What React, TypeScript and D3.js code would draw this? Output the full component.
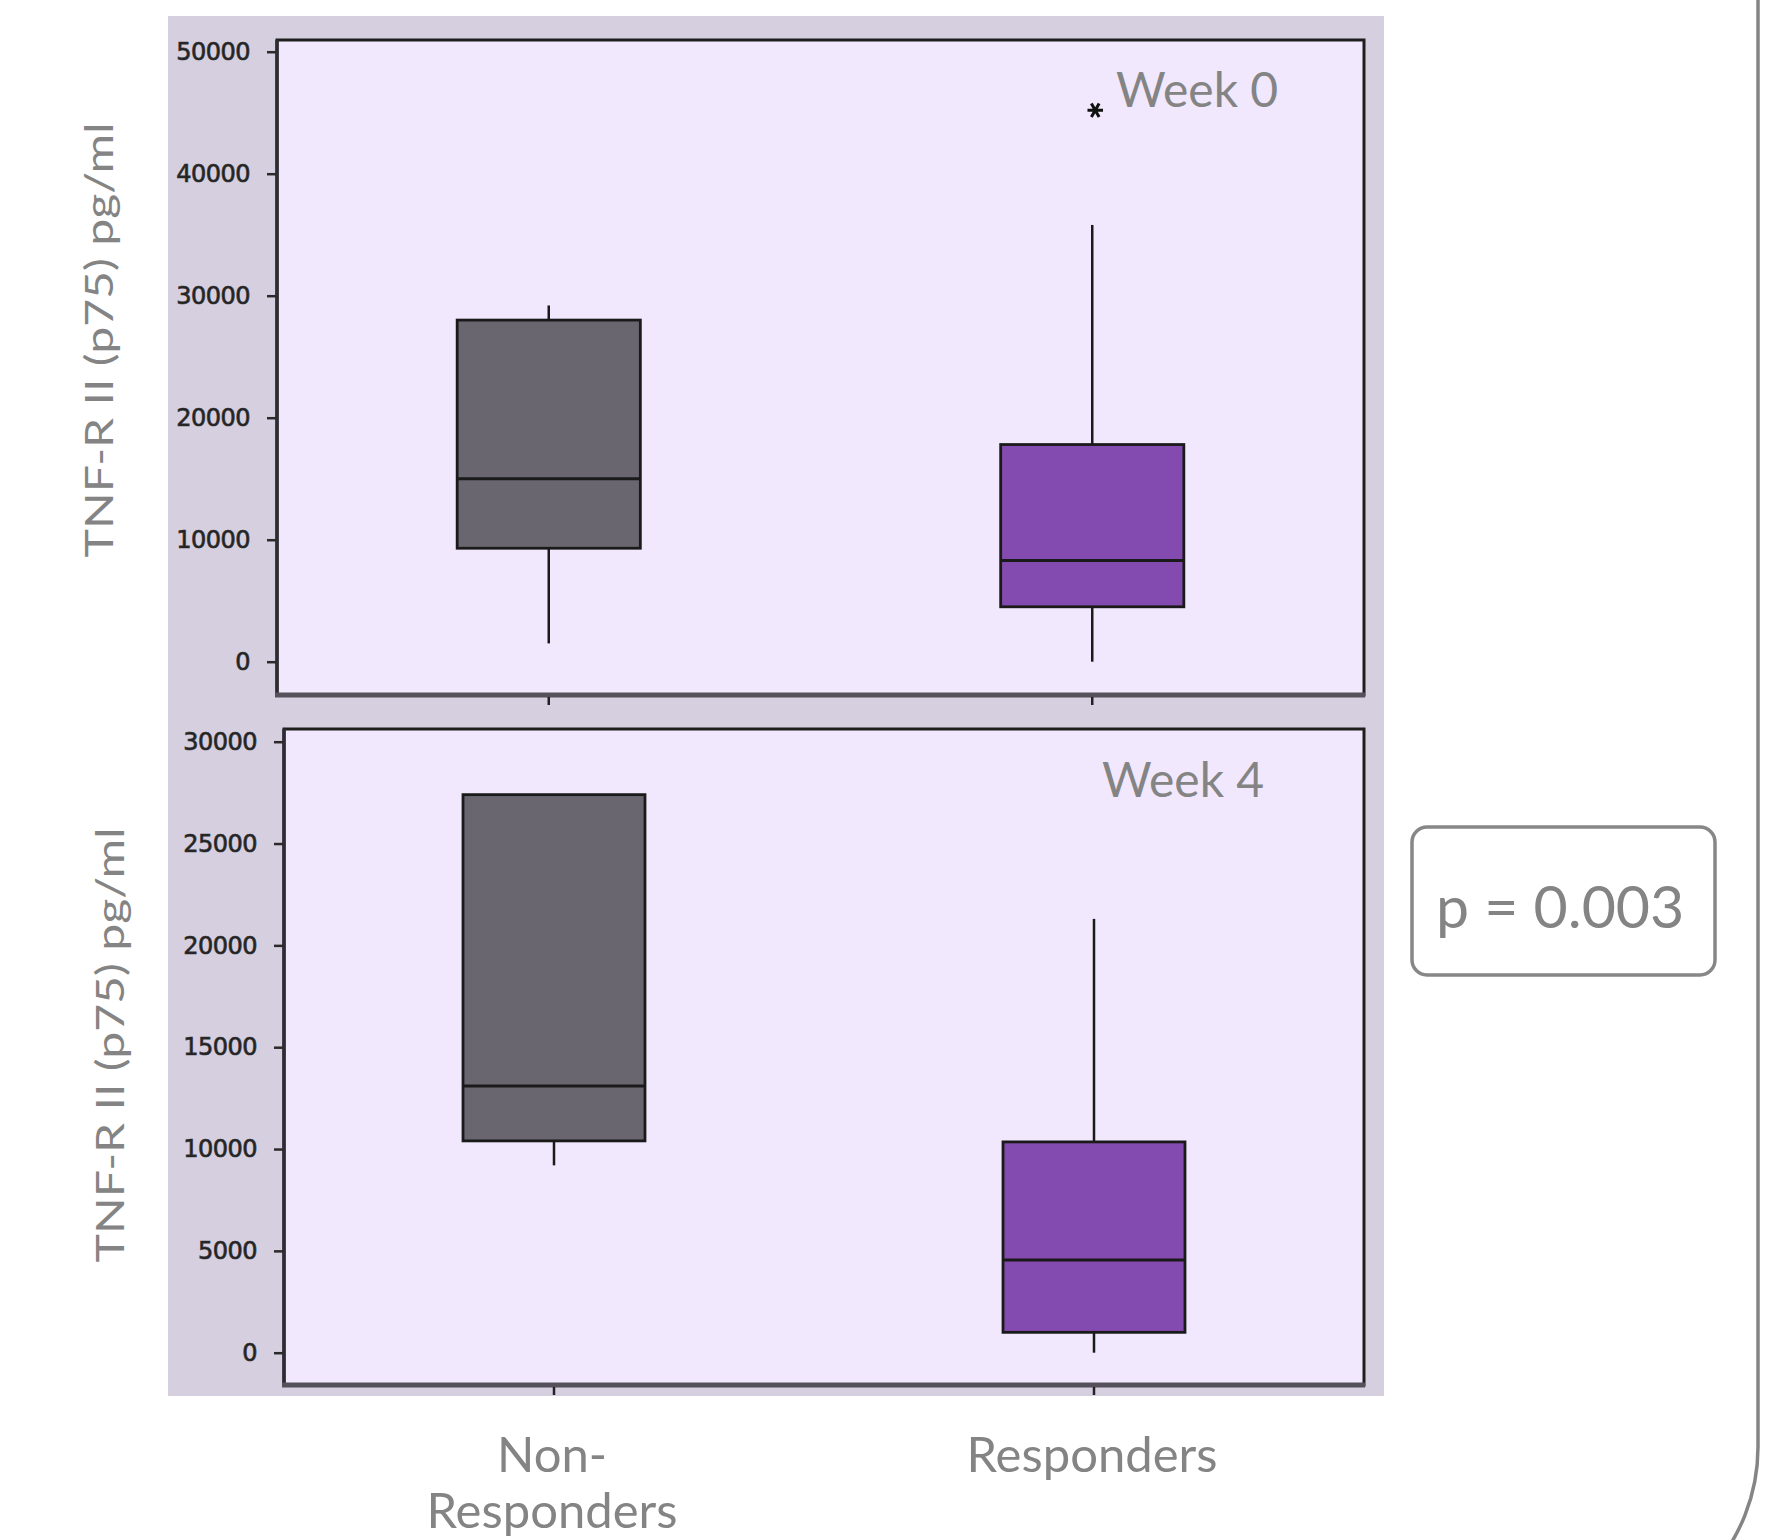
import { useEffect, useRef } from 'react';
import * as d3 from 'd3';

const groups = ['Non-Responders', 'Responders'];
const groupFills = ['#6a6670', '#834aaf'];

// Week 0 box statistics (pg/ml)
const week0Low = [1500, 0];
const week0Q1 = [9300, 4500];
const week0Median = [15000, 8300];
const week0Q3 = [28000, 17800];
const week0High = [29200, 35800];
const week0Outliers = [[], [45200]];
const week0Ticks = [0, 10000, 20000, 30000, 40000, 50000];

// Week 4 box statistics (pg/ml)
const week4Low = [9200, 0];
const week4Q1 = [10400, 1000];
const week4Median = [13100, 4550];
const week4Q3 = [27400, 10350];
const week4High = [27400, 21300];
const week4Outliers = [[], []];
const week4Ticks = [0, 5000, 10000, 15000, 20000, 25000, 30000];

const yLabel = 'TNF-R II (p75) pg/ml';
const pValue = 'p = 0.003';

const slideFont = 'Lato, "Open Sans", sans-serif';
const slideGrey = '#848484';

interface Panel {
  title: string;
  low: number[];
  q1: number[];
  median: number[];
  q3: number[];
  high: number[];
  outliers: number[][];
  ticks: number[];
  x0: number;
  x1: number;
  y0: number;
  y1: number;
  zeroY: number;
  maxY: number;
  labelX: number;
  labelY: number;
  titleX: number;
  titleY: number;
}

export default function App() {
  const svgRef = useRef<SVGSVGElement>(null);

  useEffect(() => {
    const svg = d3.select(svgRef.current);
    svg.selectAll('*').remove();

    const W = 1770;
    const H = 1540;

    svg.append('rect').attr('width', W).attr('height', H).attr('fill', '#ffffff');

    // grey chart background
    svg.append('rect')
      .attr('x', 168).attr('y', 16)
      .attr('width', 1216).attr('height', 1380)
      .attr('fill', '#d5cfe0');

    const panels: Panel[] = [
      {
        title: 'Week 0', low: week0Low, q1: week0Q1, median: week0Median, q3: week0Q3,
        high: week0High, outliers: week0Outliers, ticks: week0Ticks,
        x0: 277, x1: 1364, y0: 40, y1: 695, zeroY: 661.7, maxY: 51.7,
        labelX: 113, labelY: 340, titleX: 1116, titleY: 107,
      },
      {
        title: 'Week 4', low: week4Low, q1: week4Q1, median: week4Median, q3: week4Q3,
        high: week4High, outliers: week4Outliers, ticks: week4Ticks,
        x0: 284, x1: 1364, y0: 729, y1: 1385, zeroY: 1352.7, maxY: 741.7,
        labelX: 124, labelY: 1045, titleX: 1102, titleY: 797,
      },
    ];

    let lastX: d3.ScaleBand<string> | null = null;

    panels.forEach(p => {
      const g = svg.append('g');
      const x = d3.scaleBand<string>().domain(groups).range([p.x0, p.x1]);
      const y = d3.scaleLinear()
        .domain([0, p.ticks[p.ticks.length - 1]])
        .range([p.zeroY, p.maxY]);
      lastX = x;

      // plot area
      g.append('rect')
        .attr('x', p.x0).attr('y', p.y0)
        .attr('width', p.x1 - p.x0).attr('height', p.y1 - p.y0)
        .attr('fill', '#f1e8fd')
        .attr('stroke', '#1e1e1e')
        .attr('stroke-width', 3);

      // heavier left / bottom frame lines
      g.append('line')
        .attr('x1', p.x0).attr('x2', p.x0).attr('y1', p.y0).attr('y2', p.y1)
        .attr('stroke', '#2e2c33').attr('stroke-width', 3.5);
      g.append('line')
        .attr('x1', p.x0 - 2).attr('x2', p.x1 + 1).attr('y1', p.y1).attr('y2', p.y1)
        .attr('stroke', '#55515b').attr('stroke-width', 5);

      // y axis
      const yAxis = g.append('g')
        .attr('transform', `translate(${p.x0 - 1},0)`)
        .call(d3.axisLeft(y).tickValues(p.ticks).tickSize(9).tickPadding(17).tickFormat(d3.format('d')));
      yAxis.select('.domain').remove();
      yAxis.selectAll('line').attr('stroke', '#2a2a2a').attr('stroke-width', 2.5);
      yAxis.selectAll('text')
        .attr('fill', '#222')
        .attr('stroke', '#333')
        .attr('stroke-width', 0.7)
        .style('font-family', '"DejaVu Sans", Verdana, sans-serif')
        .style('font-size', '24px')
        .attr('letter-spacing', '-0.5');

      // x axis ticks (labels drawn once below)
      const xAxis = g.append('g')
        .attr('transform', `translate(0,${p.y1 + 2})`)
        .call(d3.axisBottom(x).tickSize(8).tickFormat(() => ''));
      xAxis.select('.domain').remove();
      xAxis.selectAll('line').attr('stroke', '#222').attr('stroke-width', 2.5);

      const boxW = x.bandwidth() * 0.337;

      groups.forEach((grp, i) => {
        const cx = (x(grp) as number) + x.bandwidth() / 2;
        const stroke = '#1a1a1a';

        // whiskers
        g.append('line')
          .attr('x1', cx).attr('x2', cx)
          .attr('y1', y(p.low[i])).attr('y2', y(p.q1[i]))
          .attr('stroke', stroke).attr('stroke-width', 2.5);
        g.append('line')
          .attr('x1', cx).attr('x2', cx)
          .attr('y1', y(p.q3[i])).attr('y2', y(p.high[i]))
          .attr('stroke', stroke).attr('stroke-width', 2.5);

        // box
        g.append('rect')
          .attr('x', cx - boxW / 2)
          .attr('y', y(p.q3[i]))
          .attr('width', boxW)
          .attr('height', y(p.q1[i]) - y(p.q3[i]))
          .attr('fill', groupFills[i])
          .attr('stroke', stroke)
          .attr('stroke-width', 2.8);

        // median
        g.append('line')
          .attr('x1', cx - boxW / 2).attr('x2', cx + boxW / 2)
          .attr('y1', y(p.median[i])).attr('y2', y(p.median[i]))
          .attr('stroke', stroke).attr('stroke-width', 3);

        // outliers
        p.outliers[i].forEach(v => {
          g.append('path')
            .attr('d', d3.symbol().type(d3.symbolAsterisk).size(170)() as string)
            .attr('transform', `translate(${cx + 3},${y(v)}) rotate(90)`)
            .attr('fill', 'none')
            .attr('stroke', '#111')
            .attr('stroke-width', 3);
        });
      });

      // panel title
      g.append('text')
        .attr('x', p.titleX).attr('y', p.titleY)
        .style('font-family', slideFont)
        .style('font-size', '48px')
        .attr('fill', slideGrey)
        .text(p.title);

      // y axis label
      g.append('text')
        .attr('transform', `translate(${p.labelX},${p.labelY}) rotate(-90)`)
        .attr('text-anchor', 'middle')
        .style('font-family', slideFont)
        .style('font-size', '39px')
        .attr('textLength', 435)
        .attr('lengthAdjust', 'spacingAndGlyphs')
        .attr('fill', slideGrey)
        .text(yLabel);
    });

    // category labels
    const xb = lastX as unknown as d3.ScaleBand<string>;
    const catLines = [['Non-', 'Responders'], ['Responders']];
    groups.forEach((grp, i) => {
      const cx = (xb(grp) as number) + xb.bandwidth() / 2;
      const t = svg.append('text')
        .attr('text-anchor', 'middle')
        .style('font-family', slideFont)
        .style('font-size', '49px')
        .attr('fill', slideGrey);
      catLines[i].forEach((line, j) => {
        t.append('tspan')
          .attr('x', cx - 2)
          .attr('y', 1472 + j * 56)
          .text(line);
      });
    });

    // p-value box
    svg.append('rect')
      .attr('x', 1412).attr('y', 827)
      .attr('width', 303).attr('height', 148)
      .attr('rx', 15)
      .attr('fill', '#ffffff')
      .attr('stroke', '#878787')
      .attr('stroke-width', 3.5);
    svg.append('text')
      .attr('x', 1436).attr('y', 928)
      .style('font-family', slideFont)
      .style('font-size', '59px')
      .attr('fill', slideGrey)
      .text(pValue);

    // large rounded outline, mostly off-page
    svg.append('rect')
      .attr('x', -400).attr('y', -400)
      .attr('width', 2158).attr('height', 2032)
      .attr('rx', 185)
      .attr('fill', 'none')
      .attr('stroke', '#858585')
      .attr('stroke-width', 3.5);
  }, []);

  return (
    <svg
      ref={svgRef}
      width={1770}
      height={1540}
      style={{ position: 'absolute', left: 0, top: 0, display: 'block' }}
    />
  );
}
